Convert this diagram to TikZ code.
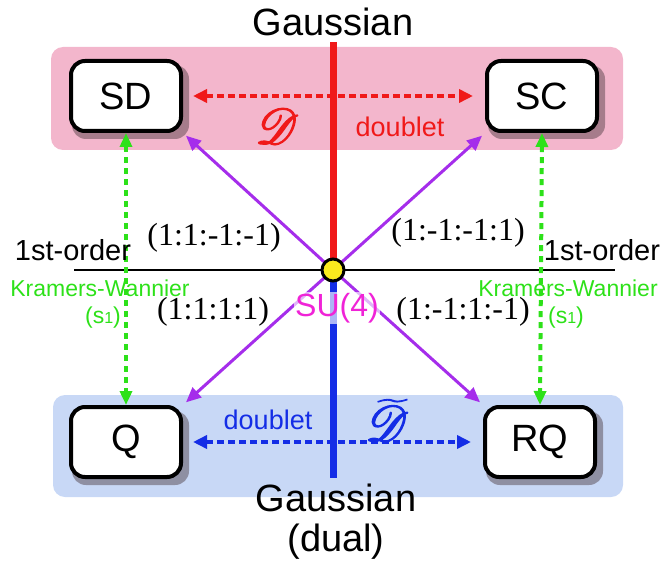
\documentclass[tikz,border=0pt]{standalone}
\usepackage{fontspec}
\setmainfont{Liberation Sans}
\newfontfamily\ratiofont{Liberation Serif}
\usepackage{mathrsfs}
\usetikzlibrary{arrows.meta,backgrounds}
\definecolor{bandred}{RGB}{243,182,204}
\definecolor{bandblue}{RGB}{200,216,246}
\definecolor{lred}{RGB}{240,25,25}
\definecolor{lblue}{RGB}{20,45,230}
\definecolor{lpurple}{RGB}{165,45,235}
\definecolor{lgreen}{RGB}{45,225,25}
\definecolor{lmag}{RGB}{240,35,215}
\definecolor{lyellow}{RGB}{250,235,30}
% heavier script letter: fill and stroke the glyph
\newcommand{\heavyscr}[1]{\scalebox{2}{\special{pdf:literal direct 2 Tr 0.6 w}%
  \fontsize{30}{30}\selectfont$#1$\special{pdf:literal direct 0 Tr 1 w}}}

\begin{document}
\begin{tikzpicture}[x=1pt,y=-1pt,
    phase/.style={draw,line width=4pt,rounded corners=14pt,fill=white,
      minimum width=110pt,minimum height=70pt,
      font=\fontsize{38}{38}\selectfont},
    boxshadow/.style={fill=black!70!bandred,opacity=0.45,rounded corners=14pt},
    big/.style={font=\fontsize{38}{40}\selectfont},
    order/.style={font=\fontsize{29}{29}\selectfont},
    kw/.style={text=lgreen,font=\fontsize{23}{23}\selectfont},
    ratio/.style={font=\ratiofont\fontsize{32}{32}\selectfont},
    dbl/.style={font=\fontsize{27}{27}\selectfont},
    tip/.style={-{Triangle[length=15pt,width=13pt]}},
    duality/.style={{Triangle[length=14pt,width=13pt]}-{Triangle[length=14pt,width=13pt]},
      line width=4pt,dash pattern=on 7pt off 4pt,shorten <=10pt,shorten >=12pt},
    kwline/.style={{Triangle[length=14pt,width=12pt]}-{Triangle[length=14pt,width=12pt]},
      lgreen,line width=4pt,dash pattern=on 6pt off 5pt}]
  \useasboundingbox (0,0) rectangle (668,572);

  % phases
  \node[phase] (SD) at (126,96) {SD};
  \node[phase] (SC) at (542,96) {SC};
  \node[phase] (Q) at (126,442) {Q};
  \node[phase] (RQ) at (540,442) {RQ};

  % the two bands and the box shadows
  \begin{scope}[on background layer]
    \fill[bandred,rounded corners=12pt] (51,47) rectangle (623,150);
    \fill[bandblue,rounded corners=12pt] (53,395) rectangle (623,497);
    \foreach \p in {SD,SC,Q,RQ}
      \fill[boxshadow] ([shift={(3,6)}]\p.north west) rectangle ([shift={(6,6)}]\p.south east);
  \end{scope}

  % axes
  \coordinate (lend) at (74,270);
  \coordinate (rend) at (615,270);
  \coordinate (gtop) at (333,42);
  \coordinate (gbot) at (333,478);
  \coordinate (mid) at (333,270);
  \draw[line width=2pt] (lend) -- (rend);
  \draw[lred,line width=7pt] (gtop) -- (mid);
  \draw[lblue,line width=7pt] (mid) -- (gbot);

  % SU(4) point and its four directions
  \draw[tip,lpurple,line width=3pt,shorten >=4pt] (mid) -- (SD.south east);
  \draw[tip,lpurple,line width=3pt,shorten >=4pt] (mid) -- (SC.south west);
  \draw[tip,lpurple,line width=3pt,shorten >=4pt] (mid) -- (Q.north east);
  \draw[tip,lpurple,line width=3pt,shorten >=4pt] (mid) -- (RQ.north west);
  \node[circle,draw,line width=3pt,fill=lyellow,minimum size=22pt,inner sep=0pt] (su4) at (mid) {};

  % dualities
  \draw[duality,lred] (SD.east) -- (SC.west);
  \draw[duality,lblue] (Q.east) -- (RQ.west);
  \draw[kwline] (SD.south) -- (Q.north);
  \draw[kwline] (SC.south) -- (RQ.north);

  % labels
  \node[big] (gauss) at (333,22) {Gaussian};
  \node[big,align=center] (gaussdual) at (336,522) {Gaussian\\(dual)};
  \node[order] (foleft) at (73,250) {1st-order};
  \node[order] (foright) at (602,250) {1st-order};
  \node[kw] (kwleft) at (100,288) {Kramers-Wannier};
  \node[kw] (kwright) at (568,288) {Kramers-Wannier};
  \node[kw] (sleft) at (103,318) {(s{\fontsize{16}{16}\selectfont 1})};
  \node[kw] (sright) at (566,318) {(s{\fontsize{16}{16}\selectfont 1})};
  \node[ratio] (rsd) at (214,238) {(1:1:-1:-1)};
  \node[ratio] (rsc) at (458,233) {(1:-1:-1:1)};
  \node[ratio] (rq) at (213,312) {(1:1:1:1)};
  \node[ratio] (rrq) at (463,312) {(1:-1:1:-1)};
  \node[text=lmag,font=\fontsize{32}{32}\selectfont,fill=white,fill opacity=0.65,
    text opacity=1,inner sep=1pt] (sulabel) at (337,308) {SU(4)};
  \node[text=lred,inner sep=0pt] (dred) at (277,126) {\heavyscr{\mathscr{D}}};
  \node[dbl,text=lred] (dblred) at (400,127) {doublet};
  \node[dbl,text=lblue] (dblblue) at (268,420) {doublet};
  \node[text=lblue,inner sep=0pt] (dblue) at (387,420) {\heavyscr{\widetilde{\mathscr{D}}}};
\end{tikzpicture}
\end{document}
